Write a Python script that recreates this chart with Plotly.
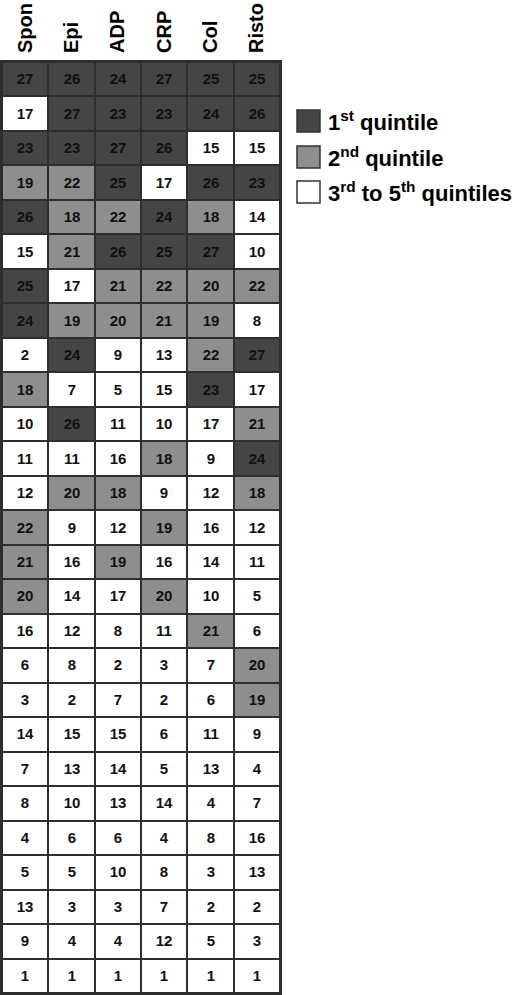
# %%
# package import
import numpy as np
import plotly.graph_objects as go

# %%
# data: rank of each item (rows) under each agonist (columns)
agonists = ["Spon", "Epi", "ADP", "CRP", "Col", "Risto"]

spon = [27, 17, 23, 19, 26, 15, 25, 24, 2, 18, 10, 11, 12, 22, 21, 20, 16, 6, 3, 14, 7, 8, 4, 5, 13, 9, 1]
epi = [26, 27, 23, 22, 18, 21, 17, 19, 24, 7, 26, 11, 20, 9, 16, 14, 12, 8, 2, 15, 13, 10, 6, 5, 3, 4, 1]
adp = [24, 23, 27, 25, 22, 26, 21, 20, 9, 5, 11, 16, 18, 12, 19, 17, 8, 2, 7, 15, 14, 13, 6, 10, 3, 4, 1]
crp = [27, 23, 26, 17, 24, 25, 22, 21, 13, 15, 10, 18, 9, 19, 16, 20, 11, 3, 2, 6, 5, 14, 4, 8, 7, 12, 1]
col = [25, 24, 15, 26, 18, 27, 20, 19, 22, 23, 17, 9, 12, 16, 14, 10, 21, 7, 6, 11, 13, 4, 8, 3, 2, 5, 1]
risto = [25, 26, 15, 23, 14, 10, 22, 8, 27, 17, 21, 24, 18, 12, 11, 5, 6, 20, 19, 9, 4, 7, 16, 13, 2, 3, 1]

legend_labels = ["1<sup>st</sup> quintile", "2<sup>nd</sup> quintile", "3<sup>rd</sup> to 5<sup>th</sup> quintiles"]

# %%
# build the matrix and the quintile class of each cell
ranks = np.array([spon, epi, adp, crp, col, risto]).T
n_rows = ranks.shape[0]
# 27 ranks -> top 5 is 1st quintile, next 5 is 2nd
quintile = np.where(ranks >= 23, 2, np.where(ranks >= 18, 1, 0))

dark = "#454545"
mid = "#8e8e8e"
white = "#ffffff"
line_col = "#2e2e2e"
font = "Liberation Sans, Arial, sans-serif"

fig = go.Figure(
    go.Heatmap(
        z=quintile,
        x=agonists,
        y=list(range(n_rows)),
        text=ranks,
        texttemplate="%{text}",
        textfont=dict(family=font, size=15, color="#111111", weight="bold"),
        colorscale=[[0, white], [0.333, white], [0.333, mid], [0.667, mid], [0.667, dark], [1, dark]],
        zmin=0,
        zmax=2,
        showscale=False,
        xgap=2,
        ygap=2,
        hoverinfo="skip",
    )
)

# %%
# layout / figure size in pixels
W, H = 520, 995
L, R, T, B = 2, 240, 62, 2

fig.update_layout(
    width=W,
    height=H,
    margin=dict(l=L, r=R, t=T, b=B),
    paper_bgcolor="white",
    plot_bgcolor=line_col,
    font=dict(family=font, color="black"),
    showlegend=False,
)
fig.update_xaxes(
    side="top",
    tickangle=-90,
    tickfont=dict(size=20, weight="bold", color="black"),
    ticks="",
    ticklabelstandoff=3,
    automargin=False,
    showgrid=False,
    zeroline=False,
    showline=True,
    linecolor=line_col,
    linewidth=2,
    mirror=True,
)
fig.update_yaxes(
    autorange="reversed",
    showticklabels=False,
    ticks="",
    automargin=False,
    showgrid=False,
    zeroline=False,
    showline=True,
    linecolor=line_col,
    linewidth=2,
    mirror=True,
)


# legend drawn by hand so the swatches can be large
def px_x(p):
    return (p - L) / (W - L - R)


def px_y(p):
    return (H - B - p) / (H - T - B)


legend_colors = [dark, mid, white]
legend_centers = [121, 157, 192]
for lab, c, yc in zip(legend_labels, legend_colors, legend_centers):
    fig.add_shape(
        type="rect",
        xref="paper",
        yref="paper",
        x0=px_x(297),
        x1=px_x(320),
        y0=px_y(yc + 11),
        y1=px_y(yc - 11),
        fillcolor=c,
        line=dict(color="#333333", width=1.5),
    )
    fig.add_annotation(
        text="<b>" + lab + "</b>",
        xref="paper",
        yref="paper",
        x=px_x(326),
        y=px_y(yc),
        xanchor="left",
        yanchor="middle",
        showarrow=False,
        font=dict(size=22, color="black"),
    )

# drop the default page margin so the figure fills the window
fig.write_html(
    "out.html",
    config={"displayModeBar": False},
    post_script="document.body.style.margin='0';",
)
